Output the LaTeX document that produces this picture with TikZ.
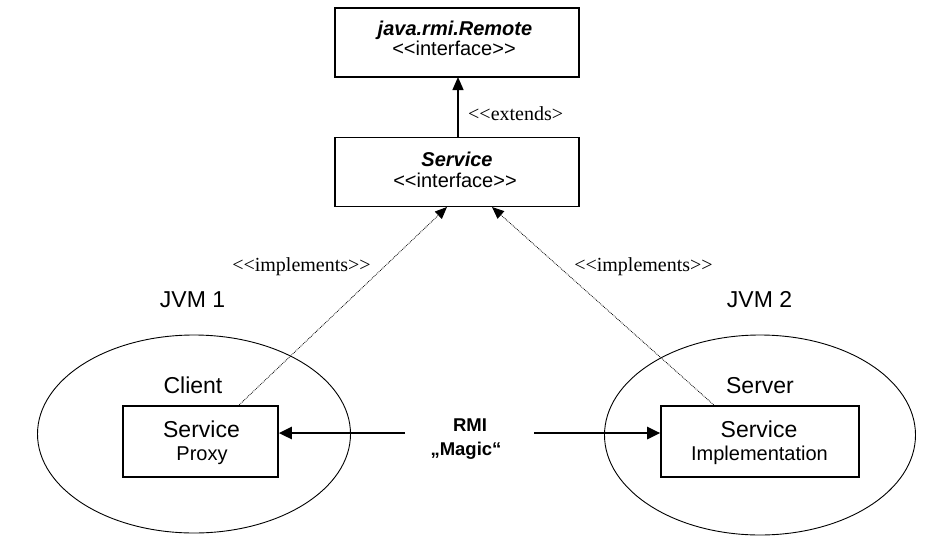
\documentclass[tikz,border=0pt]{standalone}
\usepackage{fontspec}
\setmainfont{Liberation Sans}[Ligatures=TeXOff]
\newfontfamily\timesf{Liberation Serif}[Ligatures=TeXOff]
\usetikzlibrary{arrows.meta,shapes.geometric}
\begin{document}
\begin{tikzpicture}[x=1pt,y=-1pt,
  box/.style={draw,line width=1.6pt,inner sep=0pt},
  jvm/.style={draw,line width=0.9pt,ellipse,inner sep=0pt},
  txt/.style={anchor=base,inner sep=0pt},
  big/.style={txt,font=\fontsize{23}{26}\selectfont},
  mid/.style={txt,font=\fontsize{20}{24}\selectfont},
  head/.style={txt,font=\fontsize{20}{24}\selectfont\bfseries\itshape},
  stereo/.style={txt,font=\timesf\fontsize{20}{22}\selectfont},
  rmitxt/.style={txt,font=\fontsize{18.5}{22}\selectfont\bfseries},
  impl/.style={densely dotted,line width=0.8pt,-{Triangle[length=12pt,width=10pt]}},
  ext/.style={line width=1.3pt,-{Triangle[length=13pt,width=11pt]}},
  rmi/.style={line width=2.6pt,-{Triangle[length=13pt,width=12pt]}}]
\useasboundingbox (0,0) rectangle (948,552);
% top boxes
\node[box,minimum width=244pt,minimum height=69pt] (remote) at (457,42.5) {};
\node[head] (remotet) at (455,35) {java.rmi.Remote};
\node[mid] (remotes) at (454,55.5) {<<interface>>};
\node[box,minimum width=244pt,minimum height=69pt] (service) at (457,172) {};
\node[head] (servicet) at (457,166.5) {Service};
\node[mid] (services) at (455,187) {<<interface>>};
\coordinate (extstart) at (458,137);
\coordinate (extend) at (458,77);
\draw[ext] (extstart) -- (extend);
\node[stereo,anchor=base west] (extlbl) at (468,120) {<<extends>};
% ellipses
\node[jvm,minimum width=313pt,minimum height=198pt] (jvm1) at (194,434) {};
\node[jvm,minimum width=311pt,minimum height=200pt] (jvm2) at (760,435) {};
\node[big] (jvm1lbl) at (192.5,307) {JVM 1};
\node[big] (jvm2lbl) at (759.5,307.5) {JVM 2};
\node[big] (client) at (193,393) {Client};
\node[big] (server) at (760,393) {Server};
% inner boxes
\node[box,minimum width=155pt,minimum height=71pt] (proxy) at (200.5,441.5) {};
\node[big] (proxyt) at (201.5,437) {Service};
\node[mid] (proxys) at (202,460) {Proxy};
\node[box,minimum width=198pt,minimum height=71pt] (implbox) at (760,441.5) {};
\node[big] (implt) at (759,437) {Service};
\node[mid] (impls) at (759.5,460) {Implementation};
% implements
\coordinate (pstart) at (238,406);
\coordinate (pend) at (447,207);
\coordinate (istart) at (715,406);
\coordinate (iend) at (492,207);
\draw[impl] (pstart) -- (pend);
\draw[impl] (istart) -- (iend);
\node[stereo] (impl1) at (301.5,271) {<<implements>>};
\node[stereo] (impl2) at (643.5,271) {<<implements>>};
% RMI
\node[rmitxt] (rmi) at (470,431.5) {RMI};
\node[rmitxt] (magic) at (466,455) {„Magic“};
\coordinate (la) at (405,433);
\coordinate (ra) at (534,433);
\draw[rmi] (la) -- (proxy.east|-la);
\draw[rmi] (ra) -- (implbox.west|-ra);
\end{tikzpicture}
\end{document}
